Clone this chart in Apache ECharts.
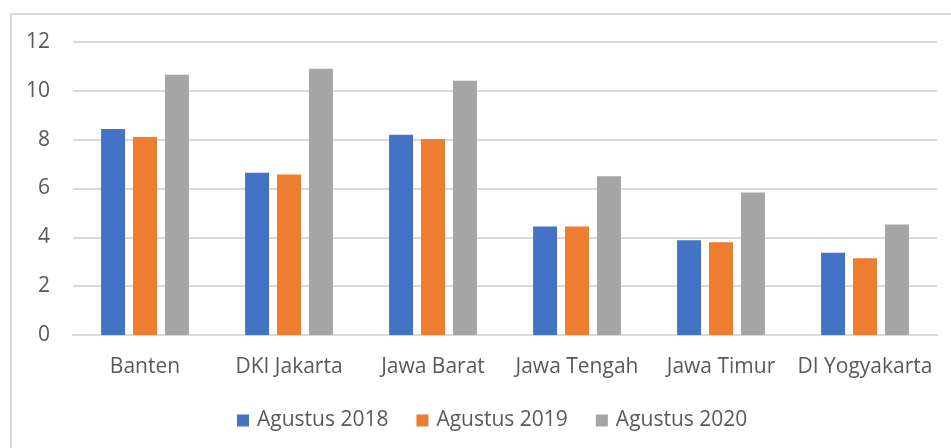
<!DOCTYPE html>
<html>
<head>
<meta charset="utf-8">
<script src="https://cdn.jsdelivr.net/npm/echarts@6/dist/echarts.min.js"></script>
<style>html,body{margin:0;padding:0;background:#fff;}#c{width:951px;height:448px;}</style>
</head>
<body>
<div id="c"></div>
<script>
const categories = ['Banten', 'DKI Jakarta', 'Jawa Barat', 'Jawa Tengah', 'Jawa Timur', 'DI Yogyakarta'];
const seriesNames = ['Agustus 2018', 'Agustus 2019', 'Agustus 2020'];
const aug2018 = [8.44, 6.65, 8.20, 4.44, 3.88, 3.37];
const aug2019 = [8.11, 6.57, 8.03, 4.44, 3.80, 3.14];
const aug2020 = [10.66, 10.90, 10.41, 6.50, 5.84, 4.53];
const yTicks = [0, 2, 4, 6, 8, 10, 12];

const colors = ['#4472C4', '#ED7D31', '#A5A5A5'];
const font = '"Open Sans", sans-serif';
const chart = echarts.init(document.getElementById('c'), null, {renderer: 'canvas'});
const values = [aug2018, aug2019, aug2020];
chart.setOption({
  animation: false,
  backgroundColor: '#fff',
  graphic: [{
    type: 'rect', shape: {x: 11, y: 14, width: 960, height: 470},
    style: {fill: 'none', stroke: '#d9d9d9', lineWidth: 2}, silent: true
  }],
  grid: {left: 73, right: 14, top: 42, bottom: 113},
  legend: {
    bottom: 12, left: 232, padding: 5,
    itemWidth: 12, itemHeight: 12, itemGap: 28,
    icon: 'rect',
    textStyle: {fontFamily: font, fontSize: 21, color: '#595959', padding: [0, 0, 0, 3]},
    data: seriesNames
  },
  xAxis: {
    type: 'category', data: categories,
    axisLine: {lineStyle: {color: '#d9d9d9', width: 2}},
    axisTick: {show: false},
    axisLabel: {fontFamily: font, fontSize: 21, color: '#595959', margin: 22, interval: 0}
  },
  yAxis: {
    type: 'value', min: yTicks[0], max: yTicks[yTicks.length - 1], interval: 2,
    axisLine: {show: false}, axisTick: {show: false},
    splitLine: {lineStyle: {color: '#d9d9d9', width: 2}},
    axisLabel: {fontFamily: font, fontSize: 21, color: '#595959', margin: 23}
  },
  series: seriesNames.map((n, i) => ({
    name: n, type: 'bar', data: values[i],
    barWidth: 24, barGap: '33%',
    itemStyle: {color: colors[i]}
  }))
});
</script>
</body>
</html>
